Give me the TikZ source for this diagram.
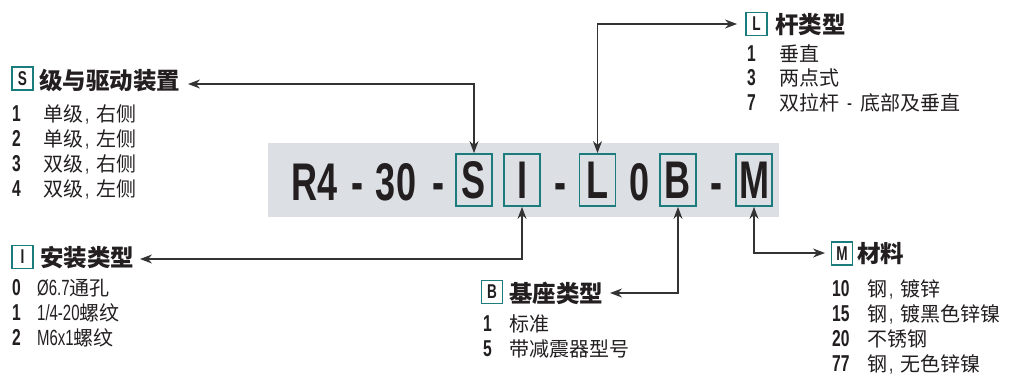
\documentclass[tikz,border=0pt]{standalone}
\usepackage{fontspec}
\setmainfont{Liberation Sans}[FakeStretch=0.68]
\newfontfamily\cjk{Noto Sans CJK SC}
\usetikzlibrary{arrows.meta}
\definecolor{tealk}{RGB}{26,124,124}
\definecolor{greybg}{RGB}{220,223,227}
\definecolor{ink}{RGB}{35,31,32}
\definecolor{linec}{RGB}{51,51,51}
\newcommand\zh[1]{{\cjk #1}}
\newcommand\cm{\hspace{2pt}{\fontsize{22}{22}\selectfont,}\hspace{7pt}}
\newcommand\numcol[2]{\makebox[#2pt][l]{\fontsize{23}{23}\selectfont\bfseries #1}}
\tikzset{
  big/.style={font=\fontsize{53}{53}\selectfont\bfseries, text=ink, inner sep=0pt, anchor=base},
  codebox/.style={draw=tealk, line width=1.8pt, minimum width=36pt, minimum height=52pt, inner sep=0pt,
     font=\fontsize{53}{53}\selectfont\bfseries, text=ink},
  keybox/.style={draw=tealk, line width=1.4pt, minimum width=21pt, minimum height=23pt, inner sep=0pt,
     font=\fontsize{20}{20}\selectfont\bfseries, text=ink},
  hdr/.style={font=\fontsize{23.5}{24}\selectfont\cjk\bfseries, text=ink, inner sep=0pt, anchor=base west},
  item/.style={font=\fontsize{20}{20}\selectfont, text=ink, inner sep=0pt, anchor=base west},
  conn/.style={draw=linec, line width=1.2pt,
     {Stealth[length=12pt,width=9pt]}-{Stealth[length=12pt,width=9pt]}},
}
\newcommand\lt[1]{{\fontsize{22}{22}\selectfont #1}}
\begin{document}
\begin{tikzpicture}[x=1pt,y=-1pt]
\useasboundingbox (0,0) rectangle (1019,376);
% code strip
\fill[greybg] (268,143) rectangle (779,217);
\node[big] (r4) at (315,200) {R4};
\node[big] (d1) at (357,200) {-};
\node[big] (n30) at (396,200) {30};
\node[big] (d2) at (438,200) {-};
\node[codebox] (Sbox) at (474,180) {S};
\node[codebox] (Ibox) at (522,180) {I};
\node[big] (d3) at (560,200) {-};
\node[codebox] (Lbox) at (597.5,180) {L};
\node[big] (zero) at (640,200) {0};
\node[codebox] (Bbox) at (678,180) {B};
\node[big] (d4) at (716,200) {-};
\node[codebox] (Mbox) at (754,180) {M};

% S group
\node[keybox] (Skey) at (22.5,78.5) {S};
\node[hdr] (Shead) at (39,89) {级与驱动装置};
\node[item] (S1) at (12,121) {\numcol{1}{31}\zh{单级}\cm\zh{右侧}};
\node[item] (S2) at (12,146) {\numcol{2}{31}\zh{单级}\cm\zh{左侧}};
\node[item] (S3) at (12,171) {\numcol{3}{31}\zh{双级}\cm\zh{右侧}};
\node[item] (S4) at (12,196) {\numcol{4}{31}\zh{双级}\cm\zh{左侧}};
\coordinate (Send) at (188,84);

% I group
\node[keybox] (Ikey) at (22.5,257) {I};
\node[hdr] (Ihead) at (40,266) {安装类型};
\node[item] (I0) at (12,295) {\numcol{0}{25}\lt{Ø6.7}\zh{通孔}};
\node[item] (I1) at (12,320) {\numcol{1}{25}\lt{1/4-20}\zh{螺纹}};
\node[item] (I2) at (12,345) {\numcol{2}{25}\lt{M6x1}\zh{螺纹}};
\coordinate (Iend) at (140,259);

% L group
\node[keybox] (Lkey) at (756.5,24) {L};
\node[hdr] (Lhead) at (775,33) {杆类型};
\node[item] (L1) at (747,61) {\numcol{1}{32}\zh{垂直}};
\node[item] (L3) at (747,85) {\numcol{3}{32}\zh{两点式}};
\node[item] (L7) at (747,110) {\numcol{7}{32}\zh{双拉杆}\hspace{8pt}\lt{-}\hspace{8pt}\zh{底部及垂直}};
\coordinate (Lend) at (737,24);

% B group
\node[keybox] (Bkey) at (492,292) {B};
\node[hdr] (Bhead) at (509,302) {基座类型};
\node[item] (B1) at (483,331) {\numcol{1}{26}\zh{标准}};
\node[item] (B5) at (483,356) {\numcol{5}{26}\zh{带减震器型号}};
\coordinate (Bend) at (610,293);

% M group
\node[keybox] (Mkey) at (842,253.5) {M};
\node[hdr] (Mhead) at (857,262) {材料};
\node[item] (M10) at (832,296) {\numcol{10}{35}\zh{钢}\cm\zh{镀锌}};
\node[item] (M15) at (832,321) {\numcol{15}{35}\zh{钢}\cm\zh{镀黑色锌镍}};
\node[item] (M20) at (832,346) {\numcol{20}{35}\zh{不锈钢}};
\node[item] (M77) at (832,371) {\numcol{77}{35}\zh{钢}\cm\zh{无色锌镍}};
\coordinate (Mend) at (825,253);

% connectors
\draw[conn] (Sbox.north) |- (Send);
\draw[conn] (Lbox.north) |- (Lend);
\draw[conn] (Ibox.south) |- (Iend);
\draw[conn] (Bbox.south) |- (Bend);
\draw[conn] (Mbox.south) |- (Mend);
\end{tikzpicture}
\end{document}
